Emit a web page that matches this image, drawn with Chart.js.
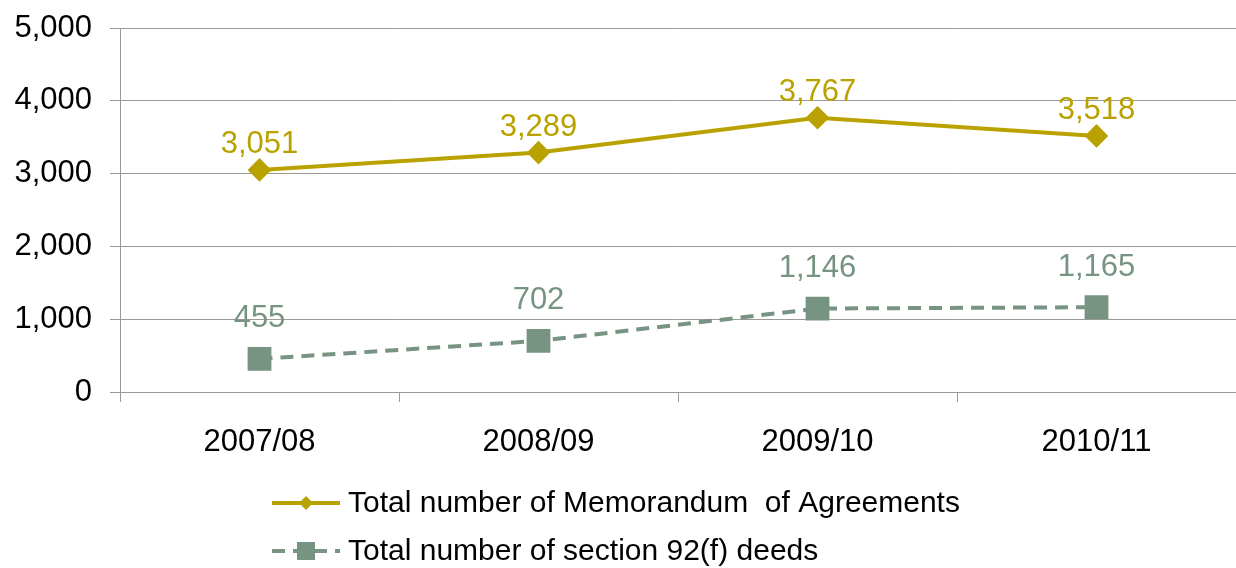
<!DOCTYPE html>
<html>
<head>
<meta charset="utf-8">
<script src="https://cdn.jsdelivr.net/npm/chart.js@4"></script>
<style>
  html, body { margin: 0; padding: 0; background: #fff; }
  #wrap { width: 1236px; height: 568px; }
</style>
</head>
<body>
<div id="wrap"><canvas id="chart" width="1236" height="568"></canvas></div>
<script>
const YEARS = ['2007/08', '2008/09', '2009/10', '2010/11'];
const AGREEMENTS = [3051, 3289, 3767, 3518];
const DEEDS = [455, 702, 1146, 1165];
const Y_TICKS = [0, 1000, 2000, 3000, 4000, 5000];

const GOLD = '#b9a200';
const SAGE = '#779483';
const FONT = '"Liberation Sans", Arial, sans-serif';

// Numbers above each point, in the series colour
const valueLabels = {
    id: 'valueLabels',
    afterDatasetsDraw(chart) {
        const ctx = chart.ctx;
        ctx.save();
        ctx.font = '31px ' + FONT;
        ctx.textAlign = 'center';
        ctx.textBaseline = 'middle';
        chart.data.datasets.forEach((ds, i) => {
            const meta = chart.getDatasetMeta(i);
            meta.data.forEach((pt, j) => {
                ctx.fillStyle = ds.borderColor;
                ctx.fillText(ds.data[j].toLocaleString('en-US'), pt.x, pt.y - ds.labelOffset);
            });
        });
        ctx.restore();
    }
};

// Legend below the axis: line sample + marker + text
const bottomLegend = {
    id: 'bottomLegend',
    afterDraw(chart) {
        const ctx = chart.ctx;
        const rows = [503, 551];
        ctx.save();
        chart.data.datasets.forEach((ds, i) => {
            const y = rows[i];
            ctx.strokeStyle = ds.borderColor;
            ctx.lineWidth = 4;
            ctx.setLineDash(ds.borderDash || []);
            ctx.beginPath();
            ctx.moveTo(272, y);
            ctx.lineTo(340, y);
            ctx.stroke();
            ctx.setLineDash([]);
            ctx.fillStyle = ds.borderColor;
            if (ds.pointStyle === 'rectRot') {
                ctx.beginPath();
                ctx.moveTo(306, y - 7);
                ctx.lineTo(313, y);
                ctx.lineTo(306, y + 7);
                ctx.lineTo(299, y);
                ctx.closePath();
                ctx.fill();
            } else {
                ctx.fillRect(297, y - 9, 18, 18);
            }
            ctx.fillStyle = '#000';
            ctx.font = '30px ' + FONT;
            ctx.textBaseline = 'middle';
            ctx.textAlign = 'left';
            ctx.fillText(ds.label, 348, y + 1);
        });
        ctx.restore();
    }
};

new Chart(document.getElementById('chart'), {
    type: 'line',
    data: {
        labels: YEARS,
        datasets: [
            {
                label: 'Total number of Memorandum  of Agreements',
                data: AGREEMENTS,
                borderColor: GOLD,
                backgroundColor: GOLD,
                borderWidth: 4,
                pointStyle: 'rectRot',
                pointRadius: 9,
                pointHoverRadius: 9,
                labelOffset: 25,
                tension: 0
            },
            {
                label: 'Total number of section 92(f) deeds',
                data: DEEDS,
                borderColor: SAGE,
                backgroundColor: SAGE,
                borderWidth: 4,
                borderDash: [13, 8],
                pointStyle: 'rect',
                pointRadius: 14,
                pointHoverRadius: 14,
                labelOffset: 40,
                tension: 0
            }
        ]
    },
    options: {
        responsive: false,
        animation: false,
        layout: { autoPadding: false, padding: { top: 28, right: 0, bottom: 0, left: 0 } },
        plugins: {
            legend: { display: false },
            tooltip: { enabled: false }
        },
        scales: {
            x: {
                offset: true,
                grid: {
                    display: true,
                    drawOnChartArea: false,
                    offset: true,
                    color: '#999',
                    tickLength: 10
                },
                border: { color: '#999', width: 1 },
                ticks: { color: '#000', font: { family: FONT, size: 31 }, padding: 22, maxRotation: 0 },
                afterFit(scale) {
                    scale.height = 176;
                    scale.paddingLeft = 0;
                    scale.paddingRight = 0;
                }
            },
            y: {
                min: 0,
                max: 5000,
                afterBuildTicks(scale) { scale.ticks = Y_TICKS.map(v => ({ value: v })); },
                grid: { color: '#999', tickLength: 10 },
                border: { color: '#999', width: 1 },
                ticks: {
                    color: '#000',
                    font: { family: FONT, size: 31 },
                    padding: 18,
                    callback: v => v.toLocaleString('en-US')
                },
                afterFit(scale) {
                    scale.width = 120;
                    scale.paddingTop = 0;
                    scale.paddingBottom = 0;
                }
            }
        }
    },
    plugins: [valueLabels, bottomLegend]
});
</script>
</body>
</html>
